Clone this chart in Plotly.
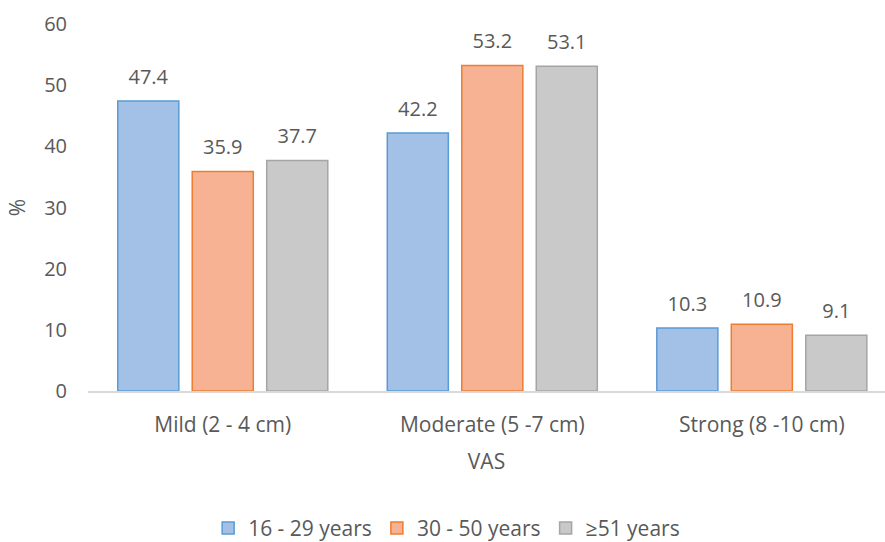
import plotly.graph_objects as go

categories = ["Mild (2 - 4 cm)", "Moderate (5 -7 cm)", "Strong (8 -10 cm)"]
series_names = ["16 - 29 years", "30 - 50 years", "≥51 years"]
v_16_29 = [47.4, 42.2, 10.3]
v_30_50 = [35.9, 53.2, 10.9]
v_51 = [37.7, 53.1, 9.1]
y_ticks = [0, 10, 20, 30, 40, 50, 60]

fills = ["#a3c0e7", "#f6b292", "#c9c9c9"]
borders = ["#5b9bd5", "#ed7d31", "#a5a5a5"]
FONT = "Open Sans"
TXT = "#595959"
FS_NUM = 20
FS_TXT = 21
GAP = 0.171

fig = go.Figure()
for i, (name, vals, fc, bc) in enumerate(zip(series_names, [v_16_29, v_30_50, v_51], fills, borders)):
    fig.add_trace(go.Bar(
        x=categories, y=vals, name=name, offsetgroup=str(i),
        marker=dict(color=fc, line=dict(color=bc, width=1.5)),
        cliponaxis=False,
    ))
for i, vals in enumerate([v_16_29, v_30_50, v_51]):
    fig.add_trace(go.Scatter(
        x=categories, y=vals, mode="markers+text", offsetgroup=str(i),
        text=[f"{v:.1f}" for v in vals], textposition="top center",
        textfont=dict(family=FONT, size=FS_NUM, color=TXT),
        marker=dict(size=18, color="rgba(0,0,0,0)", line=dict(width=0)),
        showlegend=False, hoverinfo="skip", cliponaxis=False,
    ))

fig.update_layout(
    width=885, height=542,
    margin=dict(l=88, r=0, t=24, b=151, autoexpand=False),
    paper_bgcolor="white", plot_bgcolor="white",
    barmode="group", bargap=GAP, bargroupgap=0.18,
    scattermode="group", scattergap=GAP,
    font=dict(family=FONT, size=FS_TXT, color=TXT),
    showlegend=True,
    legend=dict(orientation="h", x=0.45, xanchor="center", y=-0.374, yanchor="middle",
                font=dict(family=FONT, size=FS_TXT, color=TXT), itemwidth=30,
                traceorder="normal"),
    xaxis=dict(range=[-0.5, 2.457], showline=True, linecolor="#d9d9d9", linewidth=1.5,
               showgrid=False, ticks="", ticklabelstandoff=14, automargin=False,
               tickfont=dict(family=FONT, size=FS_TXT, color=TXT),
               title=dict(text="VAS", font=dict(family=FONT, size=FS_TXT, color=TXT), standoff=17)),
    yaxis=dict(range=[0, 60], tickvals=y_ticks, showgrid=False, zeroline=False,
               showline=False, ticks="", ticklabelstandoff=20, automargin=False,
               tickfont=dict(family=FONT, size=FS_NUM, color=TXT),
               title=dict(text="%", font=dict(family=FONT, size=FS_TXT, color=TXT), standoff=12)),
)

fig.write_html("out.html")
